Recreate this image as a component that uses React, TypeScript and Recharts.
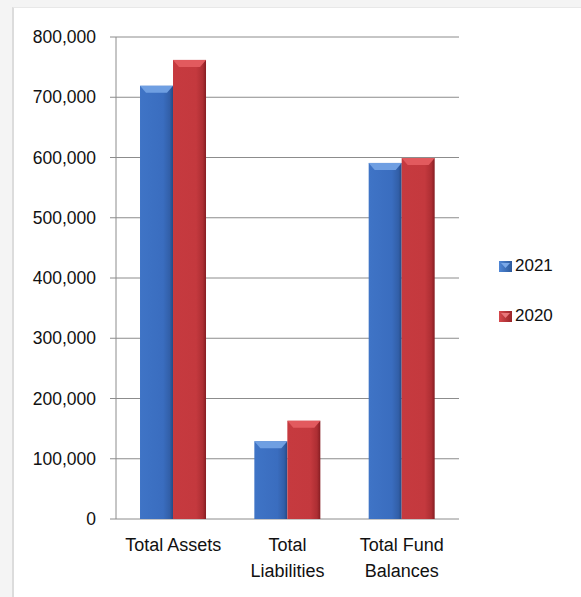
import React from "react";
import { BarChart, Bar, XAxis, YAxis, CartesianGrid, Legend } from "recharts";

const categories = ["Total Assets", "Total\nLiabilities", "Total Fund\nBalances"];
const series2021 = [719000, 129000, 591000];
const series2020 = [762000, 163000, 599000];
const yTicks = [0, 100000, 200000, 300000, 400000, 500000, 600000, 700000, 800000];
const edgeTicks = [0, 1, 2, 3];
const seriesNames = ["2021", "2020"];

const data = categories.map((c, i) => ({ name: c, y2021: series2021[i], y2020: series2020[i] }));

const FONT = "'Liberation Sans', Arial, sans-serif";

const fmt = (v: number) => v.toLocaleString("en-US");

const makeShape = (grad: string, top: string) => (props: any) => {
  const { x, y, width, height } = props;
  if (!height || height <= 0) return null;
  const b = Math.min(7, height);
  return (
    <g>
      <rect x={x} y={y} width={width} height={height} fill={`url(#${grad})`} />
      <polygon
        points={`${x},${y} ${x + width},${y} ${x + width - 6},${y + b} ${x + 6},${y + b}`}
        fill={top}
      />
    </g>
  );
};

const BlueShape = makeShape("gBlue", "#6f9fe2");
const RedShape = makeShape("gRed", "#e25a5e");

const CatTick = (props: any) => {
  const { x, y, payload } = props;
  const lines = String(payload.value).split("\n");
  return (
    <text x={x} y={y} textAnchor="middle" fontSize={18} fill="#111" fontFamily={FONT}>
      {lines.map((l, i) => (
        <tspan key={i} x={x} dy={i === 0 ? 24 : 26}>
          {l}
        </tspan>
      ))}
    </text>
  );
};

const swatch = [
  { name: seriesNames[0], c1: "#4f86d6", c2: "#2d5a9c", top: "#7aa8e8" },
  { name: seriesNames[1], c1: "#d6484c", c2: "#9a2529", top: "#e8777a" },
];

const LegendContent = () => (
  <div style={{ fontFamily: FONT, fontSize: 17, color: "#111" }}>
    {swatch.map((s, i) => (
      <div
        key={s.name}
        style={{ height: 30, lineHeight: "30px", marginBottom: i === 0 ? 20 : 0, display: "flex", alignItems: "center" }}
      >
        <svg width={13} height={11} style={{ marginRight: 3 }}>
          <defs>
            <linearGradient id={`lg${i}`} x1="0" y1="0" x2="1" y2="0">
              <stop offset="0%" stopColor={s.c1} />
              <stop offset="100%" stopColor={s.c2} />
            </linearGradient>
          </defs>
          <rect x={0} y={0} width={13} height={11} fill={`url(#lg${i})`} />
          <polygon points="2,2 11,2 6.5,7" fill={s.top} />
        </svg>
        <span>{s.name}</span>
      </div>
    ))}
  </div>
);

export default function App() {
  return (
    <div style={{ position: "absolute", left: 0, top: 0, width: 581, height: 597, background: "#f4f4f4", overflow: "hidden" }}>
      <div
        style={{
          position: "absolute",
          left: 12,
          top: 7,
          width: 569,
          height: 590,
          background: "#ffffff",
          borderLeft: "2px solid #dcdcdc",
          borderTop: "1px solid #e8e8e8",
          boxSizing: "border-box",
        }}
      />
      <div style={{ position: "absolute", left: 0, top: 0 }}>
        <BarChart
          width={581}
          height={597}
          data={data}
          margin={{ top: 37, right: 122, bottom: 18, left: 0 }}
          barCategoryGap="21%"
          barGap={0}
        >
          <defs>
            <linearGradient id="gBlue" x1="0" y1="0" x2="1" y2="0">
              <stop offset="0%" stopColor="#3f74c6" />
              <stop offset="70%" stopColor="#3a6dbf" />
              <stop offset="90%" stopColor="#325fa8" />
              <stop offset="100%" stopColor="#244a85" />
            </linearGradient>
            <linearGradient id="gRed" x1="0" y1="0" x2="1" y2="0">
              <stop offset="0%" stopColor="#c63a3f" />
              <stop offset="70%" stopColor="#c4393e" />
              <stop offset="90%" stopColor="#ad2e33" />
              <stop offset="100%" stopColor="#861d22" />
            </linearGradient>
          </defs>
          <CartesianGrid vertical={false} stroke="#8c8c8c" xAxisId="cat" />
          <XAxis
            xAxisId="edges"
            type="number"
            domain={[0, 3]}
            ticks={edgeTicks}
            tick={false}
            tickSize={7}
            height={0}
            stroke="#8c8c8c"
            allowDataOverflow
          />
          <XAxis
            xAxisId="cat"
            dataKey="name"
            axisLine={false}
            tickLine={false}
            tick={<CatTick />}
            height={60}
            interval={0}
          />
          <YAxis
            width={116}
            domain={[0, 800000]}
            ticks={yTicks}
            tickFormatter={fmt}
            tickSize={6}
            tickMargin={14}
            stroke="#8c8c8c"
            tick={{ fill: "#111", fontSize: 17.5, fontFamily: FONT }}
            interval={0}
          />
          <Legend
            layout="vertical"
            align="center"
            verticalAlign="middle"
            content={<LegendContent />}
            wrapperStyle={{ left: 499, top: 251, width: 80 }}
          />
          <Bar xAxisId="cat" dataKey="y2021" name="2021" shape={<BlueShape />} isAnimationActive={false} />
          <Bar xAxisId="cat" dataKey="y2020" name="2020" shape={<RedShape />} isAnimationActive={false} />
        </BarChart>
      </div>
    </div>
  );
}
